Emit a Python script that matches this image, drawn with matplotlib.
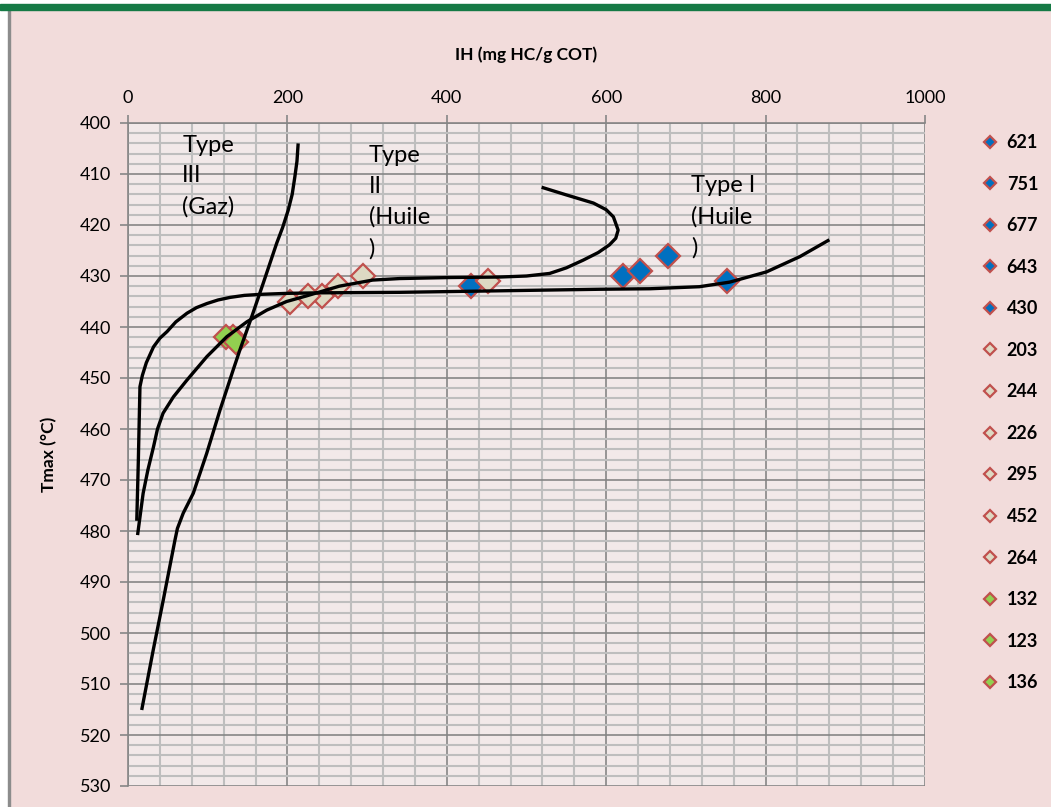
import matplotlib.pyplot as plt
from matplotlib.patches import Rectangle
from matplotlib.ticker import MultipleLocator
import numpy as np

plt.rcParams['font.family'] = ['Lato', 'DejaVu Sans']

# samples: IH (legend label) and Tmax, in legend order
ih_vals = [621, 751, 677, 643, 430, 203, 244, 226, 295, 452, 264, 132, 123, 136]
tmax_vals = [430, 431, 426, 429, 432, 435, 434, 434, 430, 431, 432, 442, 442, 443]
groups = ['I'] * 5 + ['II'] * 6 + ['III'] * 3

face = {'I': '#0070C0', 'II': '#DDD9C3', 'III': '#92D050'}
edge = '#C0504D'

# evolution paths
type1_x = [11, 12, 13, 15, 18, 23, 32, 40, 49, 60, 74, 86, 99, 113, 128, 146, 166, 200, 241, 341,
           467, 592, 655, 717, 755, 801, 843, 880]
type1_y = [478, 472, 466, 451.7, 449.5, 447, 443.9, 442.2, 440.9, 439.0, 437.3, 436.2, 435.4,
           434.7, 434.2, 433.8, 433.6, 433.4, 433.3, 433.2, 432.9, 432.6, 432.5, 432.1, 431.2,
           429.2, 426.2, 422.9]

type2_x = [519, 550, 584, 600, 609, 615, 612, 604, 590, 571, 550, 529, 500, 467, 404, 341, 307,
           265, 224, 199, 174, 149, 124, 99, 74, 57, 44, 37, 32, 25, 19, 12]
type2_y = [412.6, 414.1, 415.7, 417.0, 418.4, 421.0, 422.6, 423.9, 425.4, 426.9, 428.4, 429.5,
           430.0, 430.2, 430.3, 430.5, 430.8, 432.0, 433.9, 435.0, 436.7, 439.0, 441.9, 445.8,
           450.4, 453.7, 456.9, 460.0, 463.5, 468.0, 472.6, 480.8]

type3_x = [213.5, 212, 209.4, 206, 201, 194, 186.5, 169.7, 155.2, 140.4, 132, 115.4, 98.7, 81.9,
           69.3, 62, 58.9, 44.3, 31.7, 17.2]
type3_y = [404.0, 407.5, 410.5, 414.0, 417.1, 420.5, 423.6, 431.4, 438.0, 444.5, 448.4, 456.3,
           464.8, 472.6, 476.5, 479.5, 481.8, 493.5, 503.3, 515.1]

W, H = 1051, 807
fig = plt.figure(figsize=(W / 100, H / 100), dpi=100)
fig.patch.set_facecolor('#F2DCDB')

# outer frame bits
fig.patches.append(Rectangle((0, 0), 8 / W, 1, transform=fig.transFigure, color='white', zorder=0))
fig.patches.append(Rectangle((8 / W, 0), 1.5 / W, 1 - 10 / H, transform=fig.transFigure,
                             color='#8C8C8C', zorder=1))
fig.patches.append(Rectangle((0, 1 - 4 / H), 1, 4 / H, transform=fig.transFigure, color='white', zorder=1))
fig.patches.append(Rectangle((0, 1 - 10 / H), 1, 6 / H, transform=fig.transFigure,
                             color='#157A45', zorder=2))

ax = fig.add_axes([128 / W, 1 - 786 / H, (925 - 128) / W, (786 - 123) / H])
ax.set_facecolor('#F2E9E9')

for i in range(len(ih_vals)):
    g = groups[i]
    ax.plot(ih_vals[i], tmax_vals[i], linestyle='none', marker='D', markersize=12,
            markerfacecolor=face[g], markeredgecolor=edge, markeredgewidth=1.6,
            label=str(ih_vals[i]), zorder=3)

for xs, ys in [(type1_x, type1_y), (type2_x, type2_y), (type3_x, type3_y)]:
    ax.plot(xs, ys, color='black', linewidth=2.4, solid_capstyle='butt', solid_joinstyle='round',
            zorder=4)

ax.set_xlim(0, 1000)
ax.set_ylim(530, 400)
ax.xaxis.set_major_locator(MultipleLocator(200))
ax.xaxis.set_minor_locator(MultipleLocator(40))
ax.yaxis.set_major_locator(MultipleLocator(10))
ax.yaxis.set_minor_locator(MultipleLocator(2))
ax.grid(which='minor', color='#BEBEBE', linewidth=1.5)
ax.grid(which='major', color='#868686', linewidth=1.2)
ax.set_axisbelow(True)
ax.xaxis.tick_top()
ax.xaxis.set_label_position('top')
ax.tick_params(which='major', direction='out', length=6, width=1.2, color='#868686',
               labelsize=13, pad=6)
ax.tick_params(which='minor', length=0)
for s in ['right', 'bottom']:
    ax.spines[s].set_visible(False)
for s in ['left', 'top']:
    ax.spines[s].set_color('#868686')
    ax.spines[s].set_linewidth(1.2)

ax.set_xlabel('IH (mg HC/g COT)', fontsize=12.5, fontweight='bold', labelpad=22)
ax.set_ylabel('Tmax (°C)', fontsize=12.5, fontweight='bold', labelpad=16)

ax.text(68, 402.3, 'Type\nIII\n(Gaz)', fontsize=17, va='top', ha='left', linespacing=1.55, zorder=5)
ax.text(302, 404.4, 'Type\nII\n(Huile\n)', fontsize=17, va='top', ha='left', linespacing=1.55, zorder=5)
ax.text(707, 410.2, 'Type I\n(Huile\n)', fontsize=17, va='top', ha='left', linespacing=1.55, zorder=5)

ax.legend(loc='upper left', bbox_to_anchor=(976 / W, 1 - 125 / H), bbox_transform=fig.transFigure,
          frameon=False, prop={'weight': 'bold', 'size': 13}, markerscale=0.5,
          labelspacing=1.36, handlelength=0.6, handletextpad=0.6, borderpad=0)

fig.savefig('out.png', dpi=100, facecolor=fig.get_facecolor())
